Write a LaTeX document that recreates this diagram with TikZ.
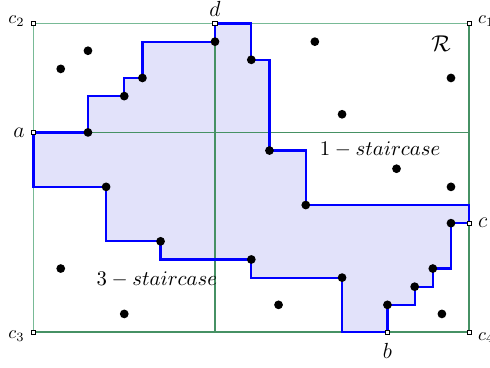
\documentclass[tikz,border=0pt]{standalone}
\usepackage{amsmath}
\usepackage{amssymb}
\usepackage{tikz}
\usetikzlibrary{positioning, backgrounds}

\definecolor{gridgreen}{RGB}{70,145,100}
\definecolor{edgegreen}{RGB}{120,186,150}
\definecolor{regionfill}{RGB}{226,226,250}

\begin{document}
\begin{tikzpicture}[x=0.35cm, y=0.35cm,
        corner/.style={draw, fill=white, rectangle, inner sep=0pt, minimum size=2.4pt, line width=0.4pt},
        pnt/.style={circle, fill=black, inner sep=0pt, minimum size=4.8pt},
        stair/.style={draw=blue, line width=1.2pt, fill=regionfill},
        boxline/.style={draw=gridgreen, line width=0.7pt},
        stairtext/.style={scale=1.14},
        biglabel/.style={font=\large}
    ]
    \useasboundingbox (-1.846,-1.967) rectangle (25.15,18.295);
    % Define nodes
    \node[corner, label={[yshift=1.5pt]left:$c_2$}] (c2) at (0,17) {};
    \node[corner, label={[yshift=1.5pt]right:$c_1$}] (c1) at (24,17) {};
    \node[corner, label={[yshift=-2pt]left:$c_3$}] (c3) at (0,0) {};
    \node[corner, label={[yshift=-3pt]right:$c_4$}] (c4) at (24,0) {};
    \node[corner, label={[biglabel]left:$a$}] (a) at (0,11) {};
    \node[corner, label={[biglabel, yshift=-1pt]above:$d$}] (d) at (10,17) {};
    \node[corner, label={[biglabel]right:$c$}] (c) at (24,6) {};
    \node[corner, label={[biglabel, yshift=-1pt]below:$b$}] (b) at (19.5,0) {};
    % staircase points
    \node[pnt] (p1) at (3,11) {};
    \node[pnt] (p2) at (5,13) {};
    \node[pnt] (p3) at (6,14) {};
    \node[pnt] (p4) at (10,16) {};
    \node[pnt] (q1) at (12,15) {};
    \node[pnt] (q2) at (13,10) {};
    \node[pnt] (q3) at (15,7) {};
    \node[pnt] (r1) at (23,6) {};
    \node[pnt] (r2) at (22,3.5) {};
    \node[pnt] (r3) at (21,2.5) {};
    \node[pnt] (r4) at (19.5,1.5) {};
    \node[pnt] (s1) at (17,3) {};
    \node[pnt] (s2) at (12,4) {};
    \node[pnt] (s3) at (7,5) {};
    \node[pnt] (s4) at (4,8) {};
    % other points
    \node[pnt] (u1) at (3,15.5) {};
    \node[pnt] (u2) at (1.5,14.5) {};
    \node[pnt] (u3) at (15.5,16) {};
    \node[pnt] (u4) at (23,14) {};
    \node[pnt] (u5) at (17,12) {};
    \node[pnt] (u6) at (20,9) {};
    \node[pnt] (u7) at (23,8) {};
    \node[pnt] (u8) at (1.5,3.5) {};
    \node[pnt] (u9) at (5,1) {};
    \node[pnt] (u10) at (13.5,1.5) {};
    \node[pnt] (u11) at (22.5,1) {};
    % labels
    \node[stairtext, scale=1.1] (R) at (22.45,15.9) {$\mathcal{R}$};
    \node[stairtext] (t1) at (19.1,10.07) {$1-staircase$};
    \node[stairtext] (t3) at (6.8,2.87) {$3-staircase$};
    % Draw edges
    \begin{scope}[on background layer]
    \path[stair, draw=none] (a.center) -- (p1.center) |- (p2.center) |- (p3.center) |- (p4.center) |- (d.center)
        -| (q1.center) -| (q2.center) -| (q3.center) -| (c.center) -- (r1.center) |- (r2.center) |- (r3.center)
        |- (r4.center) -- (b.center) -| (s1.center) -| (s2.center) -| (s3.center) -| (s4.center) -| (a.center) -- cycle;
    \draw[boxline, draw=edgegreen] (c3) -- (c2) -- (c1);
    \draw[boxline] (c1) -- (c4) -- (c3);
    \draw[boxline] (a) -- (a -| c1);
    \draw[boxline] (d) -- (d |- c3);
    \draw[stair, fill=none] (a.center) -- (p1.center) |- (p2.center) |- (p3.center) |- (p4.center) |- (d.center)
        -| (q1.center) -| (q2.center) -| (q3.center) -| (c.center) -- (r1.center) |- (r2.center) |- (r3.center)
        |- (r4.center) -- (b.center) -| (s1.center) -| (s2.center) -| (s3.center) -| (s4.center) -| (a.center) -- cycle;
    \end{scope}
\end{tikzpicture}
\end{document}
